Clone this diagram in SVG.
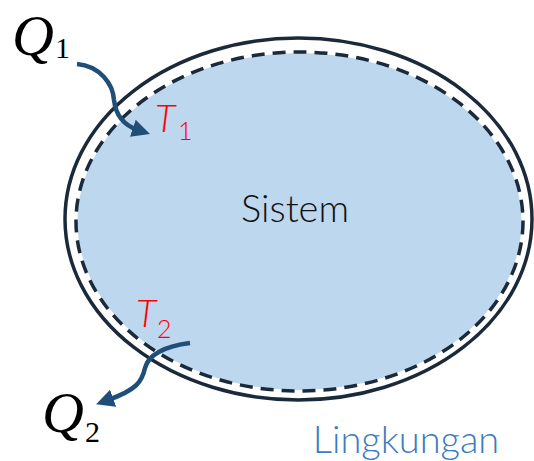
<svg xmlns="http://www.w3.org/2000/svg" width="534" height="461" viewBox="0 0 534 461">
<style>
.arrow{fill:none;stroke:#1F4E79;stroke-width:4.5;stroke-linecap:butt}
.q{font-family:"Liberation Serif",serif;font-style:italic;fill:#000}
.qs{font-family:"Liberation Serif",serif;fill:#000}
.t{font-family:Lato,"Liberation Sans",sans-serif;font-style:italic;font-weight:300;fill:#FF0000}
.ts{font-family:Lato,"Liberation Sans",sans-serif;font-weight:300;fill:#FF0000}
</style>
<defs>
<marker id="ah" markerWidth="4" markerHeight="4" refX="1.2" refY="2" orient="auto" markerUnits="strokeWidth">
<path d="M0,0 L4,2 L0,4 Z" fill="#1F4E79"/>
</marker>
</defs>
<g id="lingkungan">
<ellipse cx="298.5" cy="219" rx="233.5" ry="181" fill="#fff" stroke="#1B2A3A" stroke-width="3.5"/>
<text x="406" y="453" font-family="Lato,'Liberation Sans',sans-serif" font-weight="300" font-size="38" fill="#3A7CC0" text-anchor="middle">Lingkungan</text>
</g>
<g id="sistem">
<ellipse cx="299.5" cy="221.5" rx="222" ry="168.5" fill="#BDD7EE"/>
<ellipse cx="299.5" cy="221.5" rx="223.5" ry="169.5" fill="none" stroke="#1B2A3A" stroke-width="3.5" stroke-dasharray="13,8"/>
<text x="295" y="222" font-family="Lato,'Liberation Sans',sans-serif" font-weight="300" font-size="38" fill="#111" text-anchor="middle">Sistem</text>
</g>
<g id="connectors">
<path class="arrow" d="M77,64 C100,66 113,84 114,100 C116,118 126,126 138,130" marker-end="url(#ah)"/>
<path class="arrow" d="M190,343 C165,346 148,355 145,368 C142,382 136,390 108,400" marker-end="url(#ah)"/>
</g>
<g id="q1">
<text class="q" x="12" y="55" font-size="58">Q</text>
<text class="qs" x="55" y="58" font-size="30">1</text>
</g>
<g id="t1">
<text class="t" x="155" y="132" font-size="38">T</text>
<text class="ts" x="178" y="140" font-size="25">1</text>
</g>
<g id="t2">
<text class="t" x="136" y="327" font-size="38">T</text>
<text class="ts" x="157" y="338" font-size="25">2</text>
</g>
<g id="q2">
<text class="q" x="42" y="432" font-size="58">Q</text>
<text class="qs" x="85" y="442" font-size="30">2</text>
</g>
</svg>
